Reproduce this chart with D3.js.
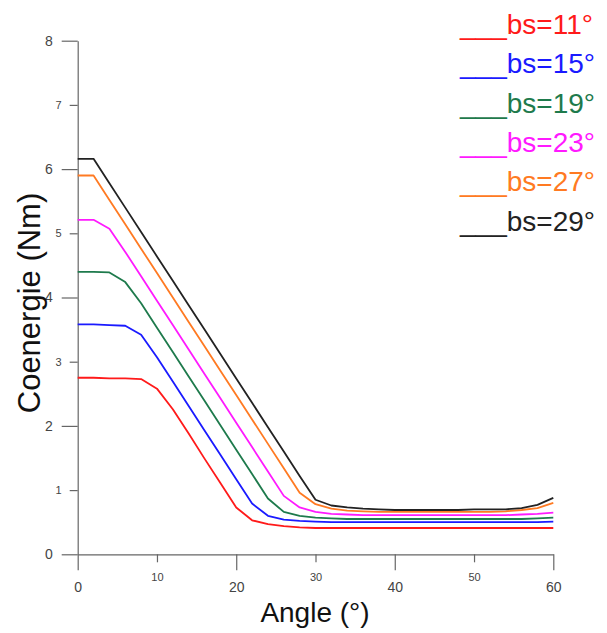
<!DOCTYPE html>
<html>
<head>
<meta charset="utf-8">
<script src="https://cdn.jsdelivr.net/npm/d3@7"></script>
<style>
  body { margin: 0; background: #fff; }
  svg { font-family: "Liberation Sans", Arial, sans-serif; }
  .axis path, .axis line { stroke: #666; stroke-width: 1.2; }
  .axis text { fill: #444; }
</style>
</head>
<body>
<svg width="607" height="633"></svg>
<script>
// angle steps (deg)
var angles = d3.range(0, 61, 2);

var labels = ["bs=11°", "bs=15°", "bs=19°", "bs=23°", "bs=27°", "bs=29°"];
var colors = ["#ff1a1a", "#1a1aff", "#1e7a4c", "#ff1aff", "#ff7a22", "#222222"];

// coenergie values (Nm), one per angle
var bs11 = [2.75, 2.75, 2.74, 2.74, 2.73, 2.58, 2.26, 1.88, 1.49, 1.11, 0.73, 0.53, 0.47, 0.44, 0.42, 0.41,
            0.41, 0.41, 0.41, 0.41, 0.41, 0.41, 0.41, 0.41, 0.41, 0.41, 0.41, 0.41, 0.41, 0.41, 0.41];
var bs15 = [3.58, 3.58, 3.57, 3.56, 3.42, 3.07, 2.69, 2.31, 1.93, 1.55, 1.17, 0.79, 0.60, 0.54, 0.52, 0.51,
            0.50, 0.50, 0.50, 0.50, 0.50, 0.50, 0.50, 0.50, 0.50, 0.50, 0.50, 0.50, 0.50, 0.50, 0.51];
var bs19 = [4.40, 4.40, 4.39, 4.24, 3.91, 3.53, 3.15, 2.77, 2.39, 2.01, 1.63, 1.25, 0.87, 0.66, 0.60, 0.57,
            0.56, 0.55, 0.55, 0.55, 0.55, 0.55, 0.55, 0.55, 0.55, 0.55, 0.55, 0.55, 0.55, 0.56, 0.57];
var bs23 = [5.21, 5.21, 5.07, 4.71, 4.33, 3.95, 3.57, 3.19, 2.81, 2.43, 2.05, 1.67, 1.29, 0.91, 0.73, 0.66,
            0.63, 0.62, 0.61, 0.61, 0.61, 0.61, 0.61, 0.61, 0.61, 0.61, 0.61, 0.61, 0.62, 0.63, 0.65];
var bs27 = [5.90, 5.90, 5.52, 5.14, 4.76, 4.38, 4.00, 3.62, 3.24, 2.86, 2.48, 2.10, 1.72, 1.34, 0.96, 0.78,
            0.71, 0.68, 0.67, 0.66, 0.66, 0.66, 0.66, 0.66, 0.66, 0.66, 0.66, 0.67, 0.69, 0.72, 0.80];
var bs29 = [6.16, 6.16, 5.78, 5.40, 5.02, 4.64, 4.26, 3.88, 3.50, 3.12, 2.74, 2.36, 1.98, 1.60, 1.22, 0.85,
            0.76, 0.73, 0.71, 0.70, 0.69, 0.69, 0.69, 0.69, 0.69, 0.70, 0.70, 0.70, 0.72, 0.77, 0.88];
var series = [bs11, bs15, bs19, bs23, bs27, bs29];

var xTicksMajor = [0, 20, 40, 60], xTicksMinor = [10, 30, 50];
var yTicksMajor = [0, 2, 4, 6, 8], yTicksMinor = [1, 3, 5, 7];

var svg = d3.select("svg");

var x = d3.scaleLinear().domain([0, 60]).range([77.7, 553.3]);
var y = d3.scaleLinear().domain([0, 8]).range([554.3, 40.7]);

// y axis: long ticks with big labels on even values, short ticks on odd ones
svg.append("g").attr("class", "axis")
  .attr("transform", "translate(" + x(0) + ",0)")
  .call(d3.axisLeft(y).tickValues(yTicksMajor).tickSize(16).tickPadding(9).tickSizeOuter(0))
  .call(g => g.selectAll("text").attr("font-size", 14).attr("font-family", "Liberation Sans, Arial"));
svg.append("g").attr("class", "axis")
  .attr("transform", "translate(" + x(0) + ",0)")
  .call(d3.axisLeft(y).tickValues(yTicksMinor).tickSize(8).tickPadding(8).tickSizeOuter(0))
  .call(g => g.select(".domain").remove())
  .call(g => g.selectAll("text").attr("font-size", 11).attr("font-family", "Liberation Sans, Arial"));

// x axis
svg.append("g").attr("class", "axis")
  .attr("transform", "translate(0," + y(0) + ")")
  .call(d3.axisBottom(x).tickValues(xTicksMajor).tickSize(16).tickPadding(12).tickSizeOuter(0))
  .call(g => g.selectAll("text").attr("font-size", 14).attr("font-family", "Liberation Sans, Arial"));
svg.append("g").attr("class", "axis")
  .attr("transform", "translate(0," + y(0) + ")")
  .call(d3.axisBottom(x).tickValues(xTicksMinor).tickSize(8).tickPadding(11).tickSizeOuter(0))
  .call(g => g.select(".domain").remove())
  .call(g => g.selectAll("text").attr("font-size", 11).attr("font-family", "Liberation Sans, Arial"));

// curves
var line = d3.line()
  .x(function(d, i) { return x(angles[i]); })
  .y(function(d) { return y(d); });

svg.selectAll(".curve")
  .data(series)
  .enter()
  .append("path")
    .attr("class", "curve")
    .attr("d", line)
    .attr("fill", "none")
    .attr("stroke", function(d, i) { return colors[i]; })
    .attr("stroke-width", 1.8)
    .attr("stroke-linejoin", "round");

// axis titles
svg.append("text")
  .attr("x", 315).attr("y", 622)
  .attr("text-anchor", "middle")
  .attr("font-size", 28)
  .attr("fill", "#111")
  .text("Angle (°)");

svg.append("text")
  .attr("transform", "translate(40,303) rotate(-90)")
  .attr("text-anchor", "middle")
  .attr("font-size", 31)
  .attr("fill", "#111")
  .text("Coenergie (Nm)");

// legend, drawn as underscore text like the original
svg.selectAll(".leg")
  .data(labels)
  .enter()
  .append("text")
    .attr("class", "leg")
    .attr("x", 460)
    .attr("y", function(d, i) { return 34 + i * 39.3; })
    .attr("font-size", 28)
    .attr("fill", function(d, i) { return colors[i]; })
    .text(function(d) { return "___" + d; });
</script>
</body>
</html>
